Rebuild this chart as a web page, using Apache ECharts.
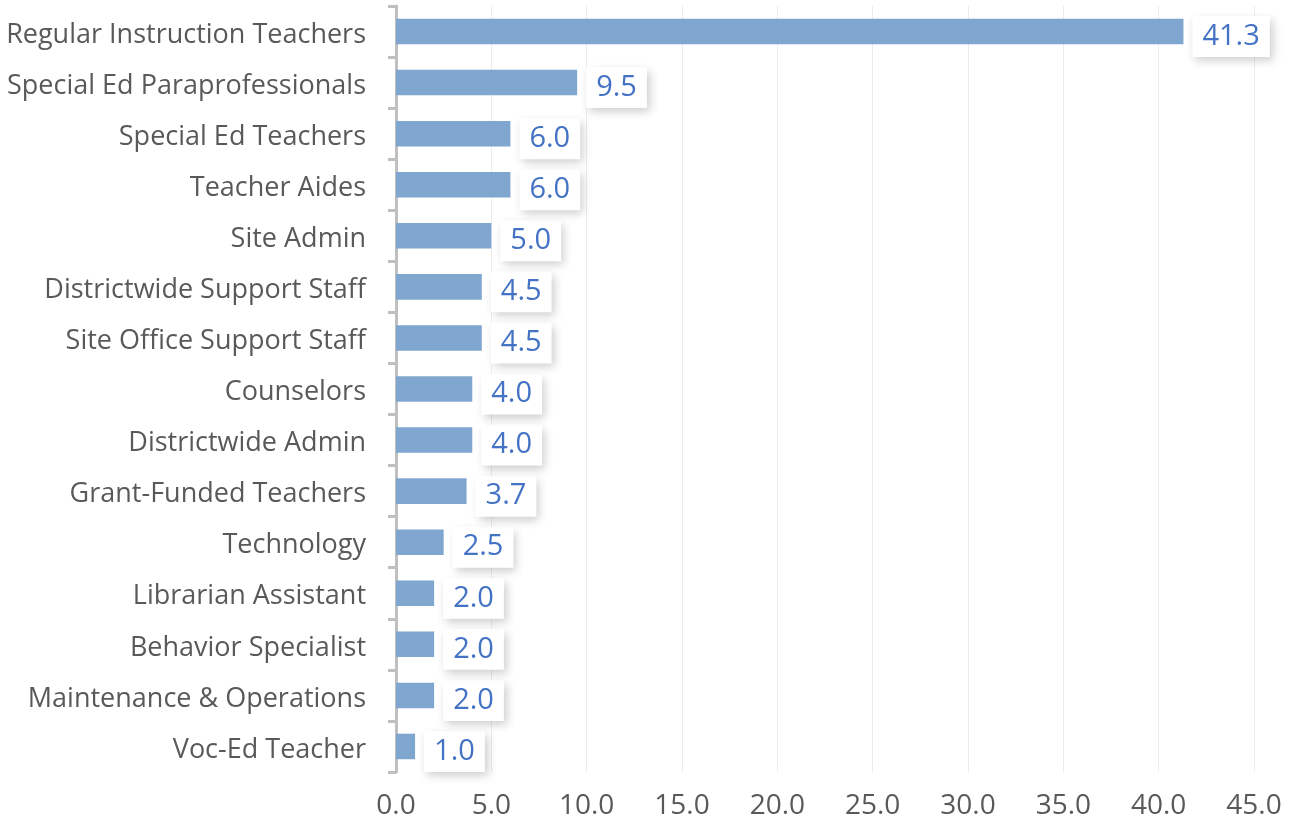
<!DOCTYPE html>
<html>
<head>
<meta charset="utf-8">
<script src="https://cdn.jsdelivr.net/npm/echarts@6/dist/echarts.min.js"></script>
<style>
  html, body { margin: 0; padding: 0; background: #fff; }
  #main { width: 1296px; height: 829px; }
</style>
</head>
<body>
<div id="main"></div>
<script>
// categories listed bottom to top (category axis starts at the bottom)
var categories = [
  'Voc-Ed Teacher',
  'Maintenance & Operations',
  'Behavior Specialist',
  'Librarian Assistant',
  'Technology',
  'Grant-Funded Teachers',
  'Districtwide Admin',
  'Counselors',
  'Site Office Support Staff',
  'Districtwide Support Staff',
  'Site Admin',
  'Teacher Aides',
  'Special Ed Teachers',
  'Special Ed Paraprofessionals',
  'Regular Instruction Teachers'
];
var values = [1.0, 2.0, 2.0, 2.0, 2.5, 3.7, 4.0, 4.0, 4.5, 4.5, 5.0, 6.0, 6.0, 9.5, 41.3];

var chart = echarts.init(document.getElementById('main'), null, { renderer: 'canvas' });

var font = '"Open Sans", sans-serif';

var option = {
  animation: false,
  grid: { left: 396, right: 42, top: 6, bottom: 57, containLabel: false },
  xAxis: {
    type: 'value',
    min: 0,
    max: 45,
    interval: 5,
    axisLine: { show: false },
    axisTick: { show: false },
    splitLine: { show: true, lineStyle: { color: '#ececec', width: 1 } },
    axisLabel: {
      color: '#595959',
      fontSize: 28,
      fontFamily: font,
      margin: 20,
      formatter: function (v) { return v.toFixed(1); }
    }
  },
  yAxis: {
    type: 'category',
    data: categories,
    axisLine: { show: true, lineStyle: { color: '#bfbfbf', width: 3 } },
    axisTick: { show: true, length: 8, lineStyle: { color: '#bfbfbf', width: 3 } },
    axisLabel: {
      margin: 30,
      formatter: function (v) { return '{c|' + v + '}'; },
      rich: {
        c: {
          color: '#595959',
          fontSize: 27,
          fontFamily: font,
          padding: [7, 0, 0, 0]
        }
      }
    }
  },
  series: [{
    type: 'bar',
    data: values,
    barWidth: '50%',
    itemStyle: { color: '#7fa6cf' },
    label: {
      show: true,
      position: 'right',
      distance: 9,
      offset: [0, 5],
      color: '#4472c4',
      fontSize: 29,
      fontFamily: font,
      backgroundColor: '#ffffff',
      padding: [7, 10, 5, 10],
      shadowColor: 'rgba(0,0,0,0.2)',
      shadowBlur: 9,
      shadowOffsetX: 3,
      shadowOffsetY: 4,
      formatter: function (p) { return p.value.toFixed(1); }
    }
  }]
};

chart.setOption(option);
</script>
</body>
</html>
